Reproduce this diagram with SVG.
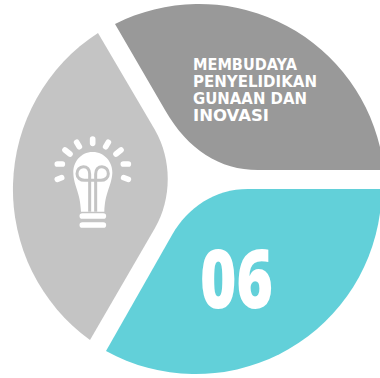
<svg xmlns="http://www.w3.org/2000/svg" width="380" height="378" viewBox="0 0 380 378">
<style>
.lab{font-family:"DejaVu Sans",sans-serif;font-size:15.5px;font-weight:bold;fill:#fff}
.ray{stroke:#fff;stroke-width:17;stroke-linecap:round;fill:none}
</style>
<rect width="380" height="378" fill="#fff"/>
<g id="segment-light">
<path fill="#c4c4c4" d="M98 33L155 130C172 160 172 198 155 228L90 340A186 186 0 0 1 98 33Z"/>
<g id="bulb" transform="translate(45 130) scale(.33333)">
<path class="ray" d="M143 27V40M95 37L103 50M190 37L182 50M60 60L75 72M228 60L213 72M37 102H52M250 102H235M37 148L50 143M250 148L236 143M112 258H175M112 285H175"/>
<path fill="#fff" d="M143 66C106 66 84 98 85 128C86 168 106 185 108 245H178C180 185 200 168 202 128C203 98 180 66 143 66Z"/>
<path fill="none" stroke="#c4c4c4" stroke-width="9" d="M134 245V132C134 118 126 110 115 110C104 110 96 120 96 131C96 143 106 151 118 151H168C180 151 190 143 190 131C190 120 182 110 171 110C160 110 152 118 152 132V245"/>
</g>
</g>
<g id="segment-dark">
<path fill="#999999" d="M115 24A186 186 0 0 1 380 147V170H258C220 170 188 150 165 110Z"/>
<text class="lab" x="193" y="70" textLength="104" lengthAdjust="spacingAndGlyphs">MEMBUDAYA</text>
<text class="lab" x="193" y="87" textLength="124" lengthAdjust="spacingAndGlyphs">PENYELIDIKAN</text>
<text class="lab" x="193" y="104" textLength="114" lengthAdjust="spacingAndGlyphs">GUNAAN DAN</text>
<text class="lab" x="193" y="121" textLength="76" lengthAdjust="spacingAndGlyphs">INOVASI</text>
</g>
<g id="segment-teal">
<path fill="#62d0d9" d="M106 351L172 235C188 207 215 189 248 189H380V213A186 186 0 0 1 106 351Z"/>
<text x="200" y="308" font-family="'Open Sans',sans-serif" font-weight="800" font-size="82" fill="#fff" textLength="73" lengthAdjust="spacingAndGlyphs">06</text>
</g>
<g id="connectors"/>
</svg>
